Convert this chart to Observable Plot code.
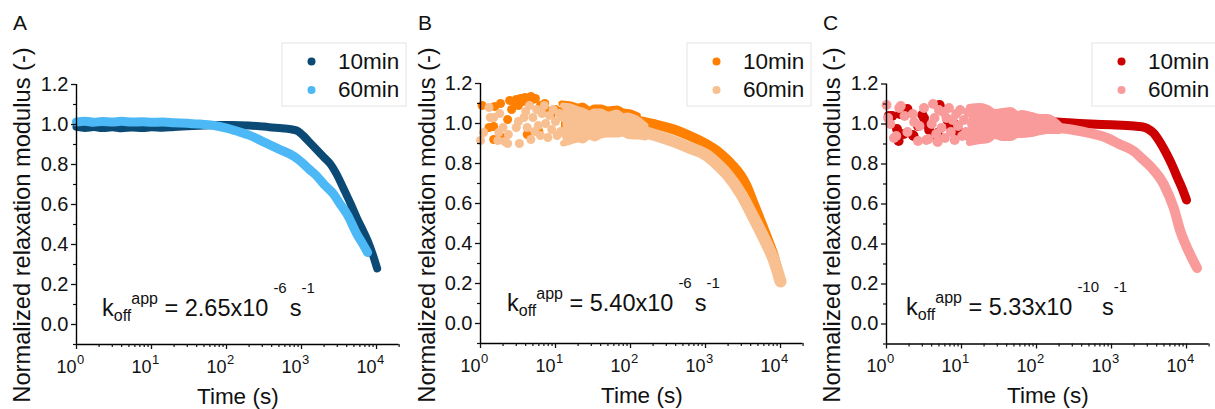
<!DOCTYPE html>
<html><head><meta charset="utf-8">
<script src="https://cdn.jsdelivr.net/npm/d3@7"></script>
<script src="https://cdn.jsdelivr.net/npm/@observablehq/plot@0.6"></script>
<style>
body{margin:0;background:#fff;}
#wrap{position:relative;width:1215px;height:409px;display:flex;overflow:hidden;}
#wrap svg{overflow:visible;flex:none;}
</style></head><body><div id="wrap"></div>
<script>
// ---------- data ----------
const timeTicks = [1, 10, 100, 1000, 10000];
const yTicks = [0, 0.2, 0.4, 0.6, 0.8, 1.0, 1.2];
const yMinor = [-0.1, 0.1, 0.3, 0.5, 0.7, 0.9, 1.1];
const seriesNames = ["10min", "60min"];
const panelLetters = ["A", "B", "C"];
const koffMantissa = ["2.65", "5.40", "5.33"];
const koffExponent = ["-6", "-6", "-10"];

// Panel A (time s, normalized modulus)
const a10Band = [[1,0.988],[1.3,0.983],[1.7,0.987],[2.2,0.982],[3,0.986],[4,0.981],[5.5,0.985],[7.5,0.982],[10,0.986],[14,0.984],[20,0.988],[30,0.991],[50,0.995],[80,0.998],[120,0.998],[200,0.995],[350,0.988],[550,0.981],[750,0.975],[900,0.966],[1050,0.945],[1250,0.915],[1450,0.89],[2000,0.835],[2450,0.80],[3000,0.745],[3630,0.68],[4500,0.605],[5500,0.53],[6500,0.475],[7600,0.42],[9000,0.345],[10200,0.28]];
const a10Dots = [];
const a10Cloud = [];
const a60Band = [[1,1.013],[1.3,1.016],[1.7,1.011],[2.2,1.015],[3,1.012],[4,1.016],[5.5,1.012],[7.5,1.014],[10,1.011],[14,1.012],[20,1.009],[30,1.006],[45,1.002],[65,0.996],[100,0.982],[150,0.962],[200,0.947],[316,0.912],[500,0.877],[800,0.84],[1000,0.812],[1260,0.777],[1620,0.74],[2000,0.70],[2700,0.65],[3300,0.60],[4070,0.55],[5500,0.45],[6500,0.405],[7600,0.36]];
const a60Dots = [];
const a60Cloud = [];

// Panel B
const b10Band = [[120,1.015],[135,1.012],[200,0.998],[380,0.97],[600,0.94],[1050,0.895],[1400,0.865],[1740,0.835],[2300,0.79],[2950,0.74],[3500,0.69],[4370,0.60],[5200,0.53],[6000,0.47],[7000,0.405],[8100,0.34],[9000,0.275],[10000,0.21]];
const b10Dots = [[1.05,1.09],[1.3,0.98],[1.5,0.985],[1.55,1.085],[1.5,0.92],[1.85,1.1],[2.0,0.93],[2.3,1.02],[2.45,1.115],[2.6,1.07],[2.8,1.11],[3.0,1.12],[3.2,1.09],[3.4,1.125],[3.65,1.11],[3.9,1.13],[4.2,0.945],[4.4,1.12],[4.7,1.135],[5.0,1.12],[5.4,1.125],[6.0,0.96],[6.3,1.09],[7.2,1.1],[7.8,1.065],[8.9,1.05],[10,1.07],[11.5,1.06]];
// envelope of the dense noisy stretch: [time, low, high]
const b10Cloud = [[12,0.95,1.1],[16,0.95,1.095],[20,0.96,1.085],[23,0.96,1.09],[28,0.965,1.07],[33,0.965,1.08],[40,0.97,1.08],[50,0.975,1.07],[66,0.98,1.075],[80,0.98,1.06],[100,0.98,1.055],[125,0.98,1.04]];
const b60Band = [[150,0.958],[200,0.945],[380,0.91],[600,0.88],[1050,0.84],[1400,0.80],[1950,0.745],[2950,0.65],[4370,0.53],[6600,0.395],[8100,0.32],[10000,0.21]];
const b60Dots = [[1.0,0.915],[1.1,0.955],[1.3,1.08],[1.35,1.03],[1.5,1.03],[1.7,0.915],[1.8,1.05],[1.75,0.955],[2.0,0.98],[2.1,0.91],[2.35,0.945],[2.3,0.9],[3.0,0.98],[3.2,1.01],[3.3,0.9],[3.8,1.03],[4.0,1.06],[4.2,0.98],[4.5,1.09],[4.7,0.92],[5.0,1.03],[5.3,0.96],[5.6,1.07],[5.9,0.99],[6.3,0.94],[6.6,1.05],[7.1,1.09],[7.4,1.0],[7.9,0.93],[8.3,1.04],[8.9,0.97],[9.3,1.07],[10,1.01],[10.5,0.94],[11.2,1.05],[11.7,0.96],[12.6,1.03],[13.2,0.95],[14.1,1.06],[14.8,0.99],[15.8,0.93]];
const b60Cloud = [[12.6,0.9,1.09],[15.8,0.91,1.085],[20,0.92,1.07],[23,0.915,1.065],[28,0.935,1.05],[33,0.925,1.06],[40,0.94,1.06],[50,0.945,1.045],[66,0.945,1.055],[80,0.95,1.035],[89,0.94,1.04],[112,0.935,1.03],[126,0.935,1.02],[158,0.93,0.99]];

// Panel C
const c10Band = [[14,1.0],[40,1.008],[112,1.012],[300,1.005],[525,1.0],[1000,0.996],[2000,0.99],[2450,0.987],[3000,0.978],[3630,0.955],[4500,0.905],[5500,0.846],[6500,0.79],[7600,0.73],[8700,0.68],[10000,0.62]];
const c10Dots = [[1.07,1.04],[1.19,1.04],[1.38,0.975],[1.45,0.915],[1.51,1.05],[1.7,0.95],[1.9,1.075],[2.24,0.945],[2.3,0.94],[2.63,0.99],[3.0,1.045],[3.16,1.03],[3.3,1.0],[3.7,0.97],[4.37,0.945],[4.8,0.955],[5.1,1.095],[5.25,1.08],[6.5,1.02],[7.1,0.99],[8.1,1.0],[9.3,0.96],[11,0.945]];
const c10Cloud = [];
const c60Band = [[200,0.98],[316,0.97],[500,0.955],[870,0.93],[1260,0.9],[2000,0.863],[2500,0.83],[3300,0.788],[5000,0.697],[6760,0.58],[8300,0.463],[10700,0.363],[13800,0.28]];
const c60Dots = [[1.0,1.095],[1.05,1.03],[1.12,1.0],[1.26,0.93],[1.35,0.94],[1.48,1.08],[1.55,1.09],[1.74,1.04],[1.9,0.96],[2.24,1.05],[2.34,1.01],[2.63,0.915],[2.75,0.99],[3.16,1.08],[3.4,0.92],[3.63,0.925],[4.0,1.0],[4.17,1.1],[4.37,1.03],[4.6,0.95],[4.8,0.91],[5.0,1.07],[5.4,0.98],[5.7,1.06],[6.0,0.93],[6.3,1.03],[6.8,1.08],[7.2,0.96],[7.6,1.02],[8.1,0.92],[8.5,1.05],[9.0,0.99],[9.6,1.07],[10.2,0.94],[10.8,1.02],[11.5,0.96],[12.3,1.06],[13,0.93],[13.8,1.0]];
const c60Cloud = [[12.6,0.905,1.085],[17.8,0.915,1.09],[22.4,0.92,1.08],[28,0.94,1.06],[35,0.93,1.065],[45.7,0.93,1.07],[56,0.945,1.05],[63,0.945,1.055],[85,0.95,1.045],[112,0.96,1.035],[141,0.965,1.035],[200,0.965,0.998]];

// ---------- drawing ----------
const FONT = "'Liberation Sans', Arial, Helvetica, sans-serif";
const W = 405, H = 409, PW = 322.6, PH = 260;
const xMinor = [];
for (const d of [1, 10, 100, 1000, 10000]) for (let m = 2; m <= 9; m++) if (d * m <= 2e4) xMinor.push(d * m);
const toObj = arr => arr.map(([t, g]) => ({t, g}));
const toEnv = arr => arr.map(([t, lo, hi]) => ({t, lo, hi}));

const panels = [
  {ml: 76, mt: 84, bands: [a10Band, a60Band], dots: [a10Dots, a60Dots], clouds: [a10Cloud, a60Cloud], colors: ["#0b4a75", "#4cb8f6"], sw: [8, 9], r: 4, kx: 102, ky: 316},
  {ml: 75, mt: 83, bands: [b10Band, b60Band], dots: [b10Dots, b60Dots], clouds: [b10Cloud, b60Cloud], colors: ["#ff7f00", "#f8c090"], sw: [10, 12], r: 4.5, kx: 102, ky: 311},
  {ml: 76, mt: 83.5, bands: [c10Band, c60Band], dots: [c10Dots, c60Dots], clouds: [c10Cloud, c60Cloud], colors: ["#cc0000", "#f99b9b"], sw: [9, 10], r: 5, kx: 96, ky: 315}
];

const wrap = document.getElementById("wrap");
panels.forEach((p, i) => {
  const dataMarks = [];
  [0, 1].forEach(s => {
    const c = p.colors[s];
    if (p.clouds[s].length) {
      dataMarks.push(Plot.areaY(toEnv(p.clouds[s]), {x: "t", y1: "lo", y2: "hi", fill: c, curve: "monotone-x"}));
      dataMarks.push(Plot.line(toEnv(p.clouds[s]), {x: "t", y: "hi", stroke: c, strokeWidth: 6, strokeLinecap: "round", curve: "monotone-x"}));
      dataMarks.push(Plot.line(toEnv(p.clouds[s]), {x: "t", y: "lo", stroke: c, strokeWidth: 6, strokeLinecap: "round", curve: "monotone-x"}));
    }
    dataMarks.push(Plot.line(toObj(p.bands[s]), {x: "t", y: "g", stroke: c, strokeWidth: p.sw[s], strokeLinecap: "round", strokeLinejoin: "round", curve: "monotone-x"}));
    dataMarks.push(Plot.dot(toObj(p.dots[s]), {x: "t", y: "g", r: p.r, fill: c, stroke: "none"}));
  });
  const plot = Plot.plot({
    width: W, height: H,
    marginTop: p.mt, marginBottom: H - p.mt - PH, marginLeft: p.ml, marginRight: W - p.ml - PW,
    style: {fontFamily: FONT, fontSize: "20px", color: "#111", background: "transparent", overflow: "visible"},
    x: {type: "log", domain: [1, 2e4]},
    y: {domain: [-0.1, 1.2]},
    marks: [
      ...dataMarks,
      Plot.ruleX([1], {stroke: "#000", strokeWidth: 1.4}),
      Plot.ruleY([-0.1], {stroke: "#000", strokeWidth: 1.4}),
      Plot.axisY(yTicks, {tickSize: 5, tickPadding: 3, tickFormat: d3.format(".1f"), label: null, strokeWidth: 1.3, fontSize: 20}),
      Plot.axisY(yMinor, {tickSize: 3, tickFormat: () => "", label: null, strokeWidth: 1.2}),
      Plot.axisX(timeTicks, {tickSize: 5, tickFormat: () => "", label: null, strokeWidth: 1.3}),
      Plot.axisX(xMinor, {tickSize: 3, tickFormat: () => "", label: null, strokeWidth: 1.2}),
      Plot.text(timeTicks, {x: d => d, frameAnchor: "bottom", text: () => "10", textAnchor: "end", lineAnchor: "bottom", dy: 28, fontSize: 18}),
      Plot.text(timeTicks, {x: d => d, frameAnchor: "bottom", text: d => String(Math.round(Math.log10(d))), textAnchor: "start", lineAnchor: "bottom", dy: 19, dx: 0.5, fontSize: 13}),
      Plot.text(["Time (s)"], {frameAnchor: "bottom", text: d => d, lineAnchor: "bottom", dy: 59, fontSize: 22.5})
    ]
  });
  const svg = d3.select(plot);
  // panel letter
  svg.append("text").attr("x", 13).attr("y", 30).attr("text-anchor", "start").attr("font-size", 21).attr("font-family", FONT).attr("fill", "#111").text(panelLetters[i]);
  // y label
  svg.append("text").attr("transform", "translate(30,225) rotate(-90)").attr("text-anchor", "middle")
    .attr("font-size", 23.7).attr("font-family", FONT).attr("fill", "#111").text("Normalized relaxation modulus (-)");
  // legend
  const lg = svg.append("g").attr("font-family", FONT).attr("text-anchor", "start");
  lg.append("rect").attr("x", 282).attr("y", 43).attr("width", 124).attr("height", 63).attr("fill", "#fff").attr("stroke", "#e4e4e4");
  seriesNames.forEach((name, s) => {
    lg.append("circle").attr("cx", 311.5).attr("cy", 61.5 + s * 28.5).attr("r", 4).attr("fill", p.colors[s]);
    lg.append("text").attr("x", 338).attr("y", 68.5 + s * 28.5).attr("font-size", 22.5).attr("fill", "#111").text(name);
  });
  // k_off annotation
  const t = svg.append("text").attr("x", p.kx).attr("y", p.ky).attr("text-anchor", "start").attr("font-family", FONT).attr("font-size", 23.5).attr("fill", "#111");
  t.append("tspan").text("k");
  t.append("tspan").attr("font-size", 16).attr("dy", 5).text("off");
  t.append("tspan").attr("font-size", 16).attr("dy", -17).text("app");
  t.append("tspan").attr("dy", 12).text(" = " + koffMantissa[i] + "x10");
  t.append("tspan").attr("font-size", 15).attr("dy", -23).attr("dx", 5).text(koffExponent[i]);
  t.append("tspan").attr("dy", 23).attr("dx", 3).text("s");
  t.append("tspan").attr("font-size", 15).attr("dy", -23).text("-1");
  wrap.appendChild(plot);
});
</script></body></html>
